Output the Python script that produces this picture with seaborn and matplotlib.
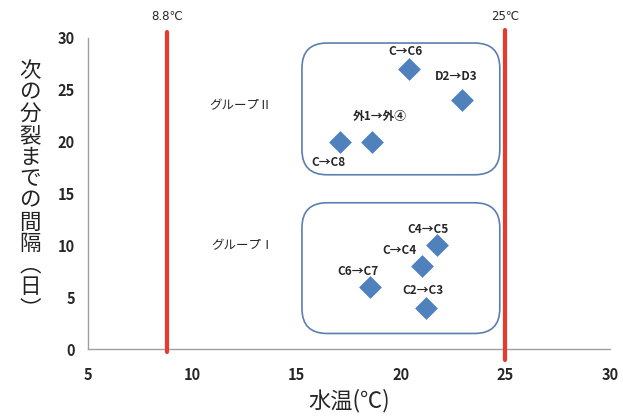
import matplotlib
matplotlib.use("Agg")
import matplotlib.pyplot as plt
import seaborn as sns
import pandas as pd
from matplotlib.patches import FancyBboxPatch

# ---- data ----
temps = [20.4, 22.9, 18.6, 17.1, 21.7, 21.0, 18.5, 21.2]
intervals = [27, 24, 20, 20, 10, 8, 6, 4]
point_labels = ["C→C6", "D2→D3", "外1→外④", "", "C4→C5", "C→C4", "C6→C7", "C2→C3"]
extra_label = "C→C8"
ref_temps = [8.8, 25]
ref_labels = ["8.8℃", "25℃"]
group_labels = ["グループⅡ", "グループⅠ"]
x_ticks = [5, 10, 15, 20, 25, 30]
y_ticks = [0, 5, 10, 15, 20, 25, 30]

# label offsets (pixels)
offsets = [(-4, 17), (-5, 24), (8, 25), (0, 0), (-9, 16), (-22, 16), (-12, 15), (-3, 17)]

sns.set_style("white")
plt.rcParams['font.family'] = ['Noto Sans CJK JP', 'DejaVu Sans']

fig = plt.figure(figsize=(6.23, 4.16), dpi=100)
ax = fig.add_axes([0.1406, 0.161, 0.979 - 0.1406, 0.909 - 0.161])

df = pd.DataFrame({"temp": temps, "interval": intervals})
sns.scatterplot(data=df, x="temp", y="interval", marker="D", s=135,
                color="#4F81BD", edgecolor="#4F81BD", linewidth=0, ax=ax, zorder=5)

ax.set_xlim(5, 30)
ax.set_ylim(0, 30)
ax.set_xticks(x_ticks)
ax.set_yticks(y_ticks)
ax.tick_params(axis='both', direction='out', length=5, width=1, color='#A0A0A0',
               labelsize=10.5, pad=4)
for lab in ax.get_xticklabels() + ax.get_yticklabels():
    lab.set_fontweight('bold')
ax.tick_params(axis='x', pad=8)
for s in ['top', 'right']:
    ax.spines[s].set_visible(False)
for s in ['left', 'bottom']:
    ax.spines[s].set_color('#A0A0A0')
    ax.spines[s].set_linewidth(1)

# reference lines
ax.axvline(ref_temps[0], ymin=-0.01, ymax=1.02, color='#E8392B', linewidth=3, clip_on=False, zorder=3)
ax.axvline(ref_temps[1], ymin=-0.035, ymax=1.025, color='#E8392B', linewidth=3, clip_on=False, zorder=3)
for t, lab in zip(ref_temps, ref_labels):
    ax.text(t, 31.4, lab, ha='center', va='bottom', fontsize=8.5, family=['DejaVu Sans'])

# rounded boxes
for (x0, y0, w, h) in [(15.26, 16.8, 9.47, 12.7), (15.26, 1.5, 9.47, 12.6)]:
    box = FancyBboxPatch((x0, y0), w, h, boxstyle="round,pad=0,rounding_size=1.2",
                         mutation_aspect=2.0, facecolor='none', edgecolor='#5B7FAF',
                         linewidth=1.2, zorder=2)
    ax.add_patch(box)

# point labels
for x, y, lab, off in zip(temps, intervals, point_labels, offsets):
    if lab:
        ax.annotate(lab, (x, y), xytext=off, textcoords='offset pixels',
                    ha='center', va='center', fontsize=8.5, fontweight='bold', zorder=6)
ax.annotate(extra_label, (temps[3], intervals[3]), xytext=(-12, -21), textcoords='offset pixels',
            ha='center', va='center', fontsize=8.5, fontweight='bold', zorder=6)

# group labels
ax.text(12.3, 23.5, group_labels[0], ha='center', va='center', fontsize=9)
ax.text(12.4, 10.0, group_labels[1], ha='center', va='center', fontsize=9)

# axis labels
ax.set_xlabel("水温(℃)", fontsize=16, labelpad=4)
ax.set_ylabel("")
ylab = "次の分裂までの間隔︵日︶"
fig.text(30 / 623, 1 - 190 / 416, "\n".join(ylab), ha='center', va='center',
         fontsize=15.5, linespacing=0.98, color='#222222')

fig.savefig("out.png", dpi=100)
